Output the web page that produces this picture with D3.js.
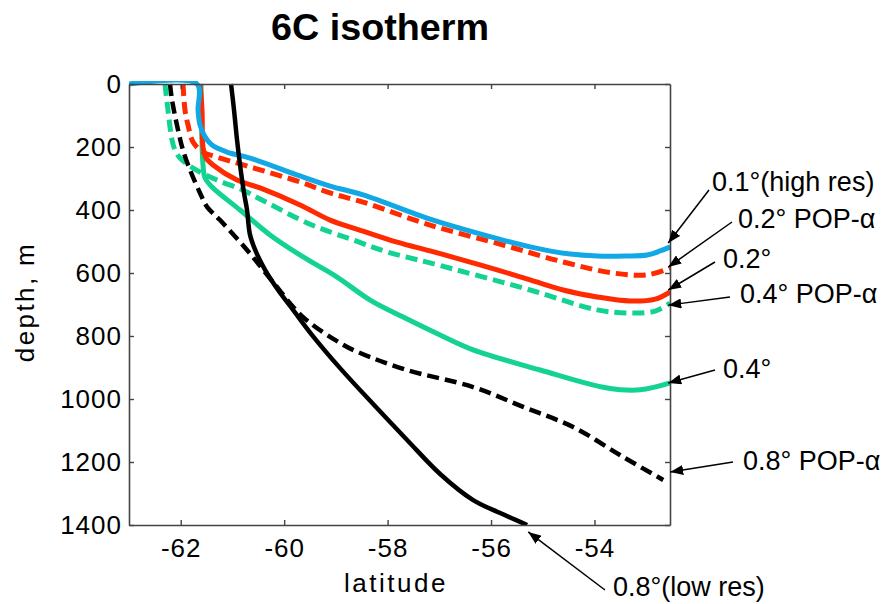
<!DOCTYPE html>
<meta charset="utf-8">
<title>6C isotherm</title>
<script src="https://cdn.jsdelivr.net/npm/d3@7"></script>
<style>
  body { margin: 0; padding: 0; background: #fff; }
  text { font-family: 'Liberation Sans', Arial, Helvetica, sans-serif; fill: #000; }
</style>
<body>
<div id="chart"></div>
<script>

// depth of the 6C isotherm (m) against latitude, one pair of arrays per run
var blueLat  = [-63, -61.685, -61.665, -61.627, -61.53, -61.395, -61.104, -60.66, -59.692, -59.112, -58.474, -57.178, -56.211, -55.244, -54.47, -53.948, -53.406, -52.981, -52.729, -52.536],
    blueDep  = [0, 0, 83, 130, 168, 194, 216, 235, 292, 324, 352, 429, 476, 517, 540, 546, 546, 543, 530, 517];

var redDashLat = [-61.956, -61.917, -61.859, -61.762, -61.569, -61.298, -60.66, -59.692, -59.112, -58.474, -57.178, -55.766, -54.605, -53.638, -52.981, -52.536],
    redDashDep = [0, 83, 130, 184, 216, 232, 263, 311, 346, 375, 448, 511, 565, 600, 606, 584];

var redLat = [-61.627, -61.588, -61.569, -61.511, -61.375, -60.911, -60.466, -59.692, -59.112, -58.474, -57.816, -57.178, -56.54, -55.882, -55.244, -54.605, -53.948, -53.309, -52.826, -52.536],
    redDep = [0, 83, 200, 235, 257, 305, 330, 384, 432, 467, 502, 530, 559, 590, 622, 654, 676, 689, 683, 660];

var greenDashLat = [-62.304, -62.246, -62.168, -62.11, -62.014, -61.762, -61.298, -60.795, -60.466, -59.499, -58.667, -58.01, -57.178, -55.244, -53.948, -53.309, -52.826, -52.536],
    greenDashDep = [0, 83, 178, 210, 235, 267, 305, 337, 365, 445, 495, 533, 568, 654, 717, 727, 721, 695];

var greenLat = [-61.607, -61.59, -61.569, -61.53, -61.395, -60.853, -60.273, -59.634, -58.977, -58.338, -57.7, -56.985, -56.346, -55.05, -53.754, -53.116, -52.536],
    greenDep = [0, 178, 257, 298, 327, 400, 479, 549, 613, 686, 740, 797, 844, 908, 965, 971, 949];

var blackDashLat = [-62.207, -62.168, -62.052, -61.956, -61.82, -61.627, -61.491, -61.24, -60.718, -60.215, -59.634, -58.919, -58.532, -57.623, -56.346, -55.379, -54.412, -53.445, -52.671],
    blackDashDep = [0, 51, 146, 210, 273, 346, 390, 432, 527, 629, 740, 822, 854, 908, 962, 1025, 1089, 1184, 1257];

var blackLat = [-61.027, -60.969, -60.911, -60.853, -60.776, -60.718, -60.66, -60.544, -60.369, -60.118, -59.828, -59.46, -58.919, -58.28, -57.623, -56.985, -56.346, -55.824, -55.302],
    blackDep = [0, 83, 178, 257, 346, 400, 479, 533, 590, 654, 717, 797, 902, 1016, 1130, 1238, 1321, 1362, 1400];

var xTicks = [-62, -60, -58, -56, -54],
    yTicks = [0, 200, 400, 600, 800, 1000, 1200, 1400];

// labels on the right and the point each arrow touches
var labels  = ["0.1°(high res)", "0.2° POP-α", "0.2°", "0.4° POP-α", "0.4°", "0.8° POP-α", "0.8°(low res)"],
    tipLat  = [-52.574, -52.574, -52.574, -52.574, -52.574, -52.536, -55.282],
    tipDep  = [505, 581, 654, 702, 949, 1232, 1422];

var width = 888, height = 604,
    margin = {top: 84, right: 218, bottom: 79, left: 129};

var svg = d3.select("#chart").append("svg")
    .attr("width", width)
    .attr("height", height);

var x = d3.scaleLinear().domain([-63, -52.54]).range([margin.left, width - margin.right]),
    y = d3.scaleLinear().domain([0, 1400]).range([margin.top, height - margin.bottom]);

var runs = [
  {lat: greenLat, dep: greenDep, color: "#14d291", dash: null, w: 5},
  {lat: greenDashLat, dep: greenDashDep, color: "#14d291", dash: "12,6", w: 5},
  {lat: redLat, dep: redDep, color: "#ff2a00", dash: null, w: 5},
  {lat: redDashLat, dep: redDashDep, color: "#ff2a00", dash: "12,6", w: 5},
  {lat: blueLat, dep: blueDep, color: "#12a8e6", dash: null, w: 5},
  {lat: blackDashLat, dep: blackDashDep, color: "#000", dash: "12,6", w: 4.5},
  {lat: blackLat, dep: blackDep, color: "#000", dash: null, w: 4.5}
];

var line = d3.line()
    .x(function(d) { return x(d[0]); })
    .y(function(d) { return y(d[1]); })
    .curve(d3.curveCatmullRom.alpha(0.5));

svg.append("defs").append("clipPath").attr("id", "clip")
  .append("rect")
    .attr("x", x(-63)).attr("y", y(0) - 3)
    .attr("width", x(-52.54) - x(-63)).attr("height", y(1400) - y(0) + 3);

var plot = svg.append("g").attr("clip-path", "url(#clip)");

runs.forEach(function(r) {
  var pts = r.lat.map(function(v, i) { return [v, r.dep[i]]; });
  plot.append("path")
    .datum(pts)
    .attr("d", line)
    .attr("fill", "none")
    .attr("stroke", r.color)
    .attr("stroke-width", r.w)
    .attr("stroke-linejoin", "round")
    .attr("stroke-dasharray", r.dash);
});

// frame + inward ticks on all four sides
var axisColor = "#444";

var bottom = svg.append("g")
    .attr("transform", "translate(0," + y(1400) + ")")
    .call(d3.axisBottom(x).tickValues(xTicks).tickSizeInner(-5).tickSizeOuter(0).tickPadding(14));
var top = svg.append("g")
    .attr("transform", "translate(0," + y(0) + ")")
    .call(d3.axisTop(x).tickValues(xTicks).tickSizeInner(-5).tickSizeOuter(0).tickFormat(""));
var left = svg.append("g")
    .attr("transform", "translate(" + x(-63) + ",0)")
    .call(d3.axisLeft(y).tickValues(yTicks).tickSizeInner(-5).tickSizeOuter(0).tickPadding(7).tickFormat(d3.format("d")));
var right = svg.append("g")
    .attr("transform", "translate(" + x(-52.54) + ",0)")
    .call(d3.axisRight(y).tickValues(yTicks).tickSizeInner(-5).tickSizeOuter(0).tickFormat(""));

svg.selectAll(".domain").attr("stroke", axisColor).attr("stroke-width", 1.6);
svg.selectAll(".tick line").attr("stroke", axisColor).attr("stroke-width", 1.4);
svg.selectAll(".tick text")
    .style("font-family", "'Liberation Sans', Arial, sans-serif")
    .style("font-size", "26px")
    .style("letter-spacing", "1px")
    .attr("fill", "#000");
// matlab style minus signs are plain hyphens
bottom.selectAll(".tick text").text(function(d) { return "-" + Math.abs(d); });

svg.append("text")
    .attr("x", 380).attr("y", 40)
    .attr("text-anchor", "middle")
    .attr("textLength", 218)
    .attr("lengthAdjust", "spacingAndGlyphs")
    .style("font-size", "37px")
    .style("font-weight", "bold")
    .text("6C isotherm");

svg.append("text")
    .attr("x", 396).attr("y", 592)
    .attr("text-anchor", "middle")
    .style("font-size", "26px")
    .style("letter-spacing", "2.5px")
    .text("latitude");

svg.append("text")
    .attr("transform", "translate(34,302) rotate(-90)")
    .attr("text-anchor", "middle")
    .style("font-size", "26px")
    .style("letter-spacing", "2.4px")
    .text("depth, m");

// annotation arrows
svg.select("defs").append("marker")
    .attr("id", "arrow")
    .attr("viewBox", "0 0 13 10")
    .attr("refX", 13).attr("refY", 5)
    .attr("markerWidth", 13).attr("markerHeight", 10)
    .attr("markerUnits", "userSpaceOnUse")
    .attr("orient", "auto")
  .append("path")
    .attr("d", "M0,0 L13,5 L0,10 Z")
    .attr("fill", "#000");

var textPos = [[712, 191], [738, 228], [723, 268], [740, 303], [723, 378], [743, 470], [613, 596]],
    tailPos = [[709, 190], [732, 222], [715, 262], [730, 297], [715, 370], [733, 462], [605, 590]];

labels.forEach(function(l, i) {
  svg.append("line")
    .attr("x1", tailPos[i][0]).attr("y1", tailPos[i][1])
    .attr("x2", x(tipLat[i])).attr("y2", y(tipDep[i]))
    .attr("stroke", "#000")
    .attr("stroke-width", 1.5)
    .attr("marker-end", "url(#arrow)");
  svg.append("text")
    .attr("x", textPos[i][0]).attr("y", textPos[i][1])
    .style("font-size", "27px")
    .text(l);
});

</script>
</body>
</html>
